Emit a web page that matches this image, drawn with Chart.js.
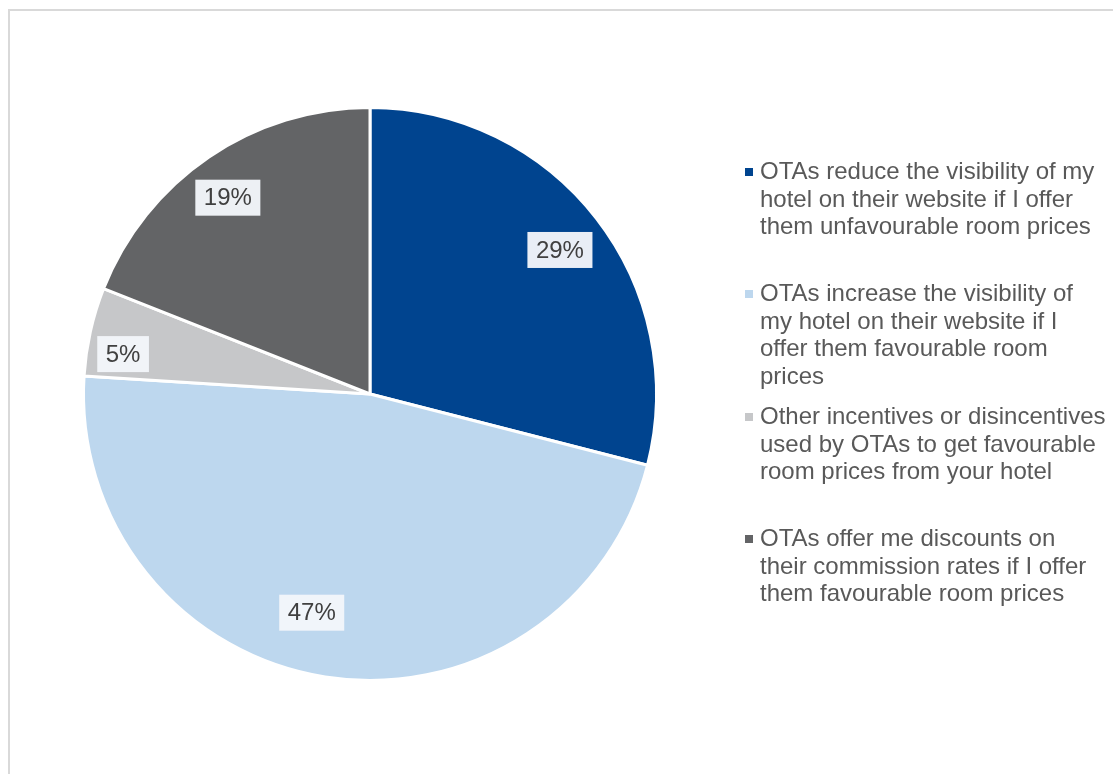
<!DOCTYPE html>
<html>
<head>
<meta charset="utf-8">
<script src="https://cdn.jsdelivr.net/npm/chart.js@4.4.1/dist/chart.umd.min.js"></script>
<style>
  html, body { margin: 0; padding: 0; background: #fff; }
  body { width: 1113px; height: 774px; overflow: hidden; position: relative; }
  #frame { position: absolute; left: 8px; top: 9px; width: 1200px; height: 900px;
           border-left: 2px solid #d9d9d9; border-top: 2px solid #d9d9d9; }
  #wrap { position: absolute; left: 0; top: 0; width: 1113px; height: 774px; }
</style>
</head>
<body>
<div id="frame"></div>
<div id="wrap"><canvas id="pie"></canvas></div>
<script>
// survey answers, one entry per slice
const answers = [
    ['OTAs reduce the visibility of my', 'hotel on their website if I offer', 'them unfavourable room prices'],
    ['OTAs increase the visibility of', 'my hotel on their website if I', 'offer them favourable room', 'prices'],
    ['Other incentives or disincentives', 'used by OTAs to get favourable', 'room prices from your hotel'],
    ['OTAs offer me discounts on', 'their commission rates if I offer', 'them favourable room prices']
];
const shares = [29, 47, 5, 19];
const shareLabels = ['29%', '47%', '5%', '19%'];

const colors = ['#00448f', '#bdd7ee', '#c6c7c9', '#636466'];

// where each value label sits: fraction along the arc, fraction of the radius
const labelSpot = [[0.506, 0.832], [0.535, 0.79], [0.31, 0.873], [0.475, 0.846]];

// legend block: first baseline of each item
const legendX = 745, legendTextX = 760, legendLine = 27.5;
const legendTops = [179, 301, 424, 546];

const pieLabels = {
    id: 'pieLabels',
    afterDatasetsDraw(chart) {
        const c = chart.ctx;
        const meta = chart.getDatasetMeta(0);
        c.save();
        c.font = '24px "Liberation Sans", Arial, sans-serif';
        c.textAlign = 'center';
        c.textBaseline = 'middle';
        meta.data.forEach(function(arc, i) {
            const p = arc.getProps(['x', 'y', 'startAngle', 'endAngle', 'outerRadius'], true);
            const a = p.startAngle + (p.endAngle - p.startAngle) * labelSpot[i][0];
            const r = p.outerRadius * labelSpot[i][1];
            const x = p.x + Math.cos(a) * r,
                y = p.y + Math.sin(a) * r;
            const w = c.measureText(shareLabels[i]).width + 17;
            c.fillStyle = 'rgba(242,246,250,0.96)';
            c.fillRect(x - w / 2, y - 18, w, 36);
            c.fillStyle = '#404040';
            c.fillText(shareLabels[i], x, y + 1);
        });
        c.restore();
    }
};

const sideLegend = {
    id: 'sideLegend',
    afterDraw(chart) {
        const c = chart.ctx;
        c.save();
        c.font = '24px "Liberation Sans", Arial, sans-serif';
        c.textBaseline = 'alphabetic';
        chart.data.labels.forEach(function(lines, i) {
            const base = legendTops[i];
            c.fillStyle = colors[i];
            c.fillRect(legendX, base - 11, 8, 8);
            c.fillStyle = '#595959';
            lines.forEach(function(line, j) {
                c.fillText(line, legendTextX, base + j * legendLine);
            });
        });
        c.restore();
    }
};

new Chart(document.getElementById('pie'), {
    type: 'pie',
    data: {
        labels: answers,
        datasets: [{
            data: shares,
            backgroundColor: colors,
            borderColor: '#ffffff',
            borderWidth: 3
        }]
    },
    options: {
        responsive: true,
        maintainAspectRatio: false,
        animation: false,
        layout: {
            padding: { left: 82, top: 106, right: 455, bottom: 92 }
        },
        plugins: {
            legend: { display: false },
            tooltip: { enabled: false }
        }
    },
    plugins: [pieLabels, sideLegend]
});
</script>
</body>
</html>
